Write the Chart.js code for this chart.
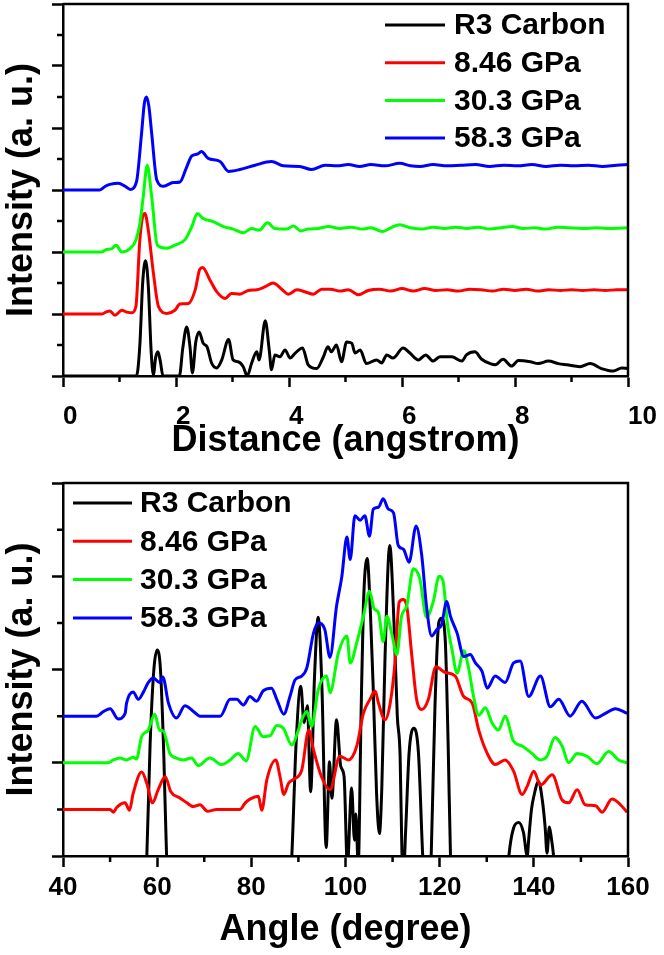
<!DOCTYPE html>
<html><head><meta charset="utf-8">
<script src="https://cdn.jsdelivr.net/npm/chart.js@4.4.0/dist/chart.umd.min.js"></script>
<style>
html,body{margin:0;padding:0;background:#fff;}
#w{position:relative;width:664px;height:955px;overflow:hidden;}
.p{position:absolute;left:0;}
</style></head>
<body><div id="w">
<div class="p" style="top:0;width:664px;height:470px"><canvas id="c1" width="664" height="470"></canvas></div>
<div class="p" style="top:470px;width:664px;height:485px"><canvas id="c2" width="664" height="485"></canvas></div>
</div>
<script>
// ---------- labels ----------
const seriesLabels = ['R3 Carbon', '8.46 GPa', '30.3 GPa', '58.3 GPa'];
const seriesColors = ['#000000', '#ff0000', '#00ff00', '#0000ff'];
const topXTicks = [0, 2, 4, 6, 8, 10];
const bottomXTicks = [40, 60, 80, 100, 120, 140, 160];

// ---------- top panel: radial distribution (distance, angstrom) ----------
const distR3X = [0,1.3,1.36,1.41,1.46,1.51,1.56,1.6,1.64,1.68,1.72,1.77,2.06,2.12,2.19,2.25,2.29,2.35,2.41,2.48,2.55,2.63,2.72,2.81,2.93,3.01,3.1,3.19,3.26,3.34,3.43,3.47,3.58,3.65,3.69,3.75,3.84,3.93,4.02,4.11,4.24,4.34,4.49,4.6,4.69,4.75,4.84,4.93,5.02,5.11,5.17,5.26,5.37,5.55,5.64,5.73,5.84,6.02,6.14,6.29,6.42,6.55,6.67,6.88,7.06,7.14,7.29,7.41,7.56,7.65,7.79,7.94,8.06,8.27,8.41,8.59,8.77,8.92,9.15,9.33,9.53,9.74,9.89,10];
const distR3Y = [0,0,0.5,1.5,1.86,1.45,0.4,0.02,0.3,0.39,0.25,0,0,0.45,0.79,0.45,0.05,0.55,0.71,0.53,0.47,0.21,0.13,0.26,0.59,0.26,0.23,0.15,0,0.21,0.39,0.26,0.89,0.42,0.1,0.34,0.31,0.42,0.29,0.37,0.45,0.18,0.12,0.29,0.47,0.39,0.5,0.23,0.55,0.53,0.37,0.42,0.2,0.26,0.21,0.34,0.29,0.45,0.37,0.26,0.34,0.24,0.31,0.31,0.24,0.34,0.39,0.27,0.2,0.18,0.27,0.16,0.25,0.23,0.2,0.24,0.2,0.18,0.15,0.2,0.12,0.08,0.13,0.12];

const dist846X = [0,0.68,0.76,0.83,0.92,1.04,1.13,1.22,1.29,1.36,1.42,1.45,1.51,1.6,1.69,1.84,1.98,2.07,2.22,2.34,2.42,2.47,2.6,2.72,2.87,2.98,3.13,3.28,3.43,3.58,3.72,3.87,3.99,4.14,4.28,4.43,4.58,4.73,4.9,5.05,5.23,5.4,5.6,5.8,6.0,6.2,6.4,6.6,6.8,7.0,7.2,7.4,7.6,7.8,8.0,8.2,8.4,8.6,8.8,9.0,9.2,9.4,9.6,9.8,10];
const dist846Y = [1,1,1.03,1.05,0.98,1.06,1.03,1.02,1.12,2.19,2.6,2.62,2.35,1.66,1.12,1.01,1.06,1.16,1.17,1.39,1.72,1.75,1.55,1.36,1.25,1.33,1.32,1.38,1.39,1.44,1.5,1.4,1.32,1.39,1.36,1.32,1.4,1.4,1.37,1.39,1.31,1.38,1.4,1.37,1.41,1.37,1.41,1.38,1.39,1.37,1.4,1.39,1.37,1.4,1.38,1.4,1.37,1.39,1.38,1.39,1.38,1.39,1.38,1.39,1.39];

const dist303X = [0,0.68,0.77,0.86,0.94,1.04,1.19,1.29,1.36,1.42,1.49,1.57,1.67,1.84,1.98,2.16,2.28,2.38,2.48,2.66,2.84,3.01,3.19,3.34,3.47,3.62,3.75,3.96,4.08,4.21,4.34,4.52,4.7,4.9,5.1,5.3,5.45,5.65,5.8,5.96,6.15,6.35,6.55,6.75,6.95,7.15,7.35,7.55,7.75,7.95,8.15,8.35,8.55,8.75,8.95,9.2,9.45,9.7,10];
const dist303Y = [2,2,2.04,2.05,2.11,2.0,2.06,2.19,2.45,2.89,3.4,2.89,2.11,2.06,2.11,2.2,2.41,2.62,2.54,2.49,2.41,2.37,2.31,2.38,2.35,2.47,2.38,2.37,2.42,2.34,2.37,2.38,2.41,2.38,2.4,2.37,2.39,2.33,2.39,2.44,2.39,2.37,2.4,2.38,2.4,2.38,2.4,2.37,2.39,2.41,2.38,2.39,2.37,2.4,2.39,2.38,2.39,2.38,2.39];

const dist583X = [0,0.65,0.75,0.83,0.98,1.1,1.19,1.3,1.39,1.44,1.48,1.52,1.57,1.66,1.78,1.95,2.07,2.18,2.28,2.38,2.45,2.57,2.78,2.93,3.13,3.4,3.69,3.9,4.19,4.4,4.64,4.85,5.05,5.25,5.45,5.7,5.96,6.15,6.32,6.55,6.8,7.05,7.3,7.55,7.8,8.05,8.3,8.55,8.8,9.05,9.3,9.55,9.8,10];
const dist583Y = [3,3,3.06,3.09,3.11,3.06,3.01,3.13,3.91,4.4,4.5,4.35,3.91,3.16,3.06,3.12,3.13,3.35,3.55,3.58,3.62,3.51,3.46,3.3,3.33,3.4,3.46,3.39,3.38,3.33,3.4,3.39,3.41,3.38,3.41,3.39,3.43,3.39,3.38,3.41,3.39,3.4,3.41,3.38,3.4,3.39,3.41,3.38,3.4,3.39,3.4,3.38,3.4,3.41];

// ---------- bottom panel: bond-angle distribution (degree) ----------
const angR3X = [40,57,57.8,58.5,59.3,60,60.7,61.4,62,62.8,88,88.6,89.5,90.5,91.2,91.9,92.6,93.4,94.2,95.0,95.9,96.6,97.1,98.1,99.0,99.7,100.4,101.3,101.9,102.2,102.7,103.3,103.8,104.6,105.3,105.9,106.6,107.2,107.7,108.4,109.4,110.3,111.0,111.6,112.0,112.3,112.8,113.5,114.5,115.5,116.4,117,117.8,118.2,119,119.8,120.4,121.2,121.8,122.3,123,134,134.7,135.7,136.8,137.8,138.6,138.9,139.5,140,141,141.8,142.4,142.8,143.3,143.7,144.2,145,160];
const angR3Y = [-0.5,-0.5,0,1.2,2.0,2.21,2.0,1.1,0,-0.5,-0.5,0,1.2,1.82,1.43,1.61,0.69,1.9,2.56,1.8,0.09,1.01,0.62,1.46,0.96,0.85,-0.1,0.73,0.17,0.45,-0.1,1.5,2.68,3.19,2.6,1.78,0.67,0.24,0.71,2.14,3.33,2.5,1.5,1.07,0,-0.2,0.3,1.1,1.37,1.1,0,-0.5,-0.5,0,1.6,2.5,2.55,2.3,1.2,0,-0.5,-0.5,0,0.3,0.36,0.25,0,0.17,0.5,0.64,0.8,0.6,0.31,0.03,0.31,0.2,0,-0.5,-0.5];

const ang846X = [40,50,50.7,51.4,53.2,54.1,54.9,56.7,57.8,59.0,60.2,61.7,62.9,64.9,66.3,67.7,69.1,70.7,72.6,77.6,78.7,79.7,81.5,82.2,83.3,85.2,86.1,86.9,87.9,88.9,90.7,92.2,93.2,94.9,96.7,98.8,100.6,102.4,103.8,105.2,106.3,107,108.4,109.5,110.5,111.4,112.2,113,114.1,115.1,116.2,117.6,119.2,121.1,123.3,125.1,126.9,128.3,130.1,131.8,133.9,135.7,137.5,138.6,140,141.4,143.9,146,147.4,149.2,150.9,153.1,154.5,156.6,158,159.8];
const ang846Y = [0.5,0.5,0.47,0.52,0.57,0.49,0.67,0.9,0.78,0.57,0.71,0.85,0.69,0.62,0.57,0.53,0.55,0.48,0.5,0.5,0.57,0.61,0.64,0.49,0.82,1.03,0.85,0.66,0.78,0.82,0.92,1.35,1.14,0.85,0.71,1.07,1.03,1.18,1.53,1.68,1.77,1.64,1.46,1.64,2.07,2.72,2.75,2.68,2.14,1.68,1.57,1.68,2.03,1.97,1.93,1.71,1.64,1.35,1.1,0.98,1.03,0.91,0.66,0.75,0.91,0.76,0.87,0.6,0.57,0.71,0.55,0.54,0.47,0.61,0.57,0.47];

const ang303X = [40,49.6,50.7,52.1,53.5,54.9,55.6,56.7,58.1,59.5,60.5,61.3,62.7,64.1,65.5,67.3,68.7,71.2,73.7,75.5,77.2,78.9,80.8,82.5,84.0,85.4,86.8,88.6,90.0,90.7,91.8,92.8,94.2,96,96.7,98.5,100.3,101,102.4,103.8,105.1,106.1,107,108,108.8,109.8,110.9,111.9,113,114.4,115.8,117.2,118.6,119.9,120.7,121.7,122.6,123.7,125.1,126.2,127.2,128.3,129.7,131.1,132.5,133.9,135.7,137.5,139.6,141.4,142.8,144.5,146,147.4,149.2,151.3,153.4,155.9,158,159.8];
const ang303Y = [1,1,1.03,1.05,1.03,1.06,1.04,1.28,1.35,1.52,1.35,1.34,1.1,1.05,1.03,1.05,0.97,1.05,0.98,1.03,1.1,1.02,1.39,1.28,1.29,1.4,1.37,1.19,1.35,1.46,1.55,1.39,1.78,1.93,1.75,2.18,2.36,2.07,2.29,2.57,2.84,2.65,2.61,2.3,2.57,2.39,2.16,2.57,2.68,3.08,2.97,2.56,2.72,3.0,2.95,2.47,2.22,1.96,2.2,2.0,1.71,1.51,1.59,1.43,1.35,1.5,1.23,1.18,1.1,1.03,1.07,1.27,1.18,1.0,1.1,1.07,0.99,1.12,1.03,1.0];

const ang583X = [40,47.1,48.6,50,51.7,53.2,53.5,54.9,56,57.1,58.1,59.2,60.5,61.2,62.4,64.1,65.9,67.7,69.1,73.4,75.5,76.9,78.3,79.7,81.1,82.5,84.3,85.4,86.9,88.2,89.3,90.7,91.8,93.2,94.2,95.6,96.7,98.1,99.2,100.3,101,102,103.1,104.1,105.1,105.9,107,108,109.1,110.2,111.2,112.3,113.5,115,116.2,117.2,118.3,119.4,120.4,121.5,122.3,123.7,125.1,126.5,127.6,129,130.1,131.8,133.9,135.7,137.1,138.9,141.4,143.5,145.3,147.7,150.2,153.1,155.2,157.3,159.8];
const ang583Y = [1.5,1.5,1.55,1.58,1.47,1.53,1.64,1.76,1.68,1.76,1.86,1.91,1.86,1.92,1.64,1.48,1.61,1.55,1.5,1.5,1.68,1.68,1.62,1.71,1.66,1.77,1.8,1.68,1.52,1.71,1.89,1.93,2.02,2.39,2.5,2.43,2.13,2.68,2.99,3.42,3.18,3.65,3.6,3.65,3.43,3.72,3.74,3.83,3.72,3.68,3.33,3.29,3.15,3.54,3.22,2.68,2.36,2.43,2.48,2.73,2.57,2.39,2.14,2.16,2.07,1.98,1.8,1.93,1.86,2.07,2.09,1.71,1.93,1.6,1.68,1.5,1.66,1.48,1.53,1.58,1.53];

// ---------- helpers ----------
function pts(xs, ys) { return xs.map((x, i) => ({ x: x, y: ys[i] })); }
function makeDatasets(list) {
  return list.map((p, i) => ({
    label: seriesLabels[i], data: pts(p[0], p[1]),
    borderColor: seriesColors[i], backgroundColor: seriesColors[i],
    borderWidth: 3, pointRadius: 0, fill: false,
    cubicInterpolationMode: 'monotone', order: 4 - i
  }));
}
const FONT = '"Liberation Sans", Arial, Helvetica, sans-serif';

const framePlugin = {
  id: 'frame',
  afterDatasetsDraw(chart) {
    const a = chart.chartArea, ctx = chart.ctx;
    ctx.save();
    ctx.strokeStyle = '#000'; ctx.lineWidth = 2.5;
    ctx.beginPath();
    ctx.moveTo(a.left, a.top); ctx.lineTo(a.right, a.top); ctx.lineTo(a.right, a.bottom);
    ctx.stroke();
    // minor ticks
    const o = chart.options.plugins.frame;
    const xs = chart.scales.x, ys = chart.scales.y;
    ctx.beginPath();
    for (let v = xs.min + o.xMinor; v < xs.max; v += o.xMinor * 2) {
      const px = xs.getPixelForValue(v);
      ctx.moveTo(px, a.bottom); ctx.lineTo(px, a.bottom + 6);
    }
    for (let v = ys.min + o.yMinor; v < ys.max; v += o.yMinor * 2) {
      const py = ys.getPixelForValue(v);
      ctx.moveTo(a.left, py); ctx.lineTo(a.left - 6, py);
    }
    ctx.stroke();
    // legend
    const L = o.legend;
    ctx.font = 'bold 30px ' + FONT;
    ctx.textBaseline = 'middle'; ctx.textAlign = 'left'; ctx.fillStyle = '#000';
    chart.data.datasets.forEach((d, i) => {
      const y = L.y0 + i * L.dy;
      ctx.strokeStyle = d.borderColor; ctx.lineWidth = 3;
      ctx.beginPath(); ctx.moveTo(L.x0, y); ctx.lineTo(L.x0 + L.w, y); ctx.stroke();
      ctx.fillText(d.label, L.tx, y + 1);
    });
    ctx.restore();
  }
};

function makeChart(id, datasets, cfg) {
  return new Chart(document.getElementById(id), {
    type: 'line',
    data: { datasets: datasets },
    plugins: [framePlugin],
    options: {
      responsive: false, animation: false,
      layout: { padding: { left: 0, right: 36, top: cfg.top, bottom: 0 } },
      plugins: {
        legend: { display: false }, tooltip: { enabled: false },
        frame: { xMinor: cfg.xMinor, yMinor: cfg.yMinor, legend: cfg.legend }
      },
      scales: {
        x: {
          type: 'linear', min: cfg.xMin, max: cfg.xMax,
          afterBuildTicks: s => { s.ticks = cfg.xTicks.map(v => ({ value: v })); },
          ticks: { color: '#000', font: { family: FONT, size: 26, weight: 'bold' }, padding: cfg.tickPad, maxRotation: 0, autoSkip: false, align: cfg.tickAlign },
          grid: { drawOnChartArea: false, drawTicks: true, tickLength: 11, tickWidth: 2.5, tickColor: '#000' },
          border: { color: '#000', width: 2.5 },
          title: { display: true, text: cfg.xTitle, color: '#000', font: { family: FONT, size: 36, weight: 'bold' }, padding: { top: 0, bottom: cfg.titlePad } },
          afterFit: s => { s.height = cfg.xH; s.paddingLeft = 0; s.paddingRight = 0; }
        },
        y: {
          type: 'linear', min: cfg.yMin, max: cfg.yMax,
          ticks: { display: false, stepSize: cfg.yStep },
          grid: { drawOnChartArea: false, drawTicks: true, tickLength: 11, tickWidth: 2.5, tickColor: '#000' },
          border: { color: '#000', width: 2.5 },
          title: { display: true, text: 'Intensity (a. u.)', color: '#000', font: { family: FONT, size: 36, weight: 'bold' }, padding: { top: 0, bottom: 0 } },
          afterFit: s => { s.width = 63; s.paddingTop = 0; s.paddingBottom = 0; }
        }
      }
    }
  });
}

makeChart('c1', makeDatasets([[distR3X, distR3Y], [dist846X, dist846Y], [dist303X, dist303Y], [dist583X, dist583Y]]), {
  top: 4, xMin: 0, xMax: 10, xTicks: topXTicks, xMinor: 1, yMin: 0, yMax: 6, yStep: 1, yMinor: 0.5,
  xTitle: 'Distance (angstrom)', tickPad: 14, titlePad: 7, xH: 94, tickAlign: 'start',
  legend: { x0: 385, w: 60, tx: 454, y0: 25, dy: 37.7 }
});
makeChart('c2', makeDatasets([[angR3X, angR3Y], [ang846X, ang846Y], [ang303X, ang303Y], [ang583X, ang583Y]]), {
  top: 13, xMin: 40, xMax: 160, xTicks: bottomXTicks, xMinor: 10, yMin: 0, yMax: 4, yStep: 1, yMinor: 0.5,
  xTitle: 'Angle (degree)', tickPad: 5, titlePad: 3, xH: 99, tickAlign: 'center',
  legend: { x0: 73, w: 59, tx: 140, y0: 33, dy: 38.3 }
});
</script>
</body></html>
